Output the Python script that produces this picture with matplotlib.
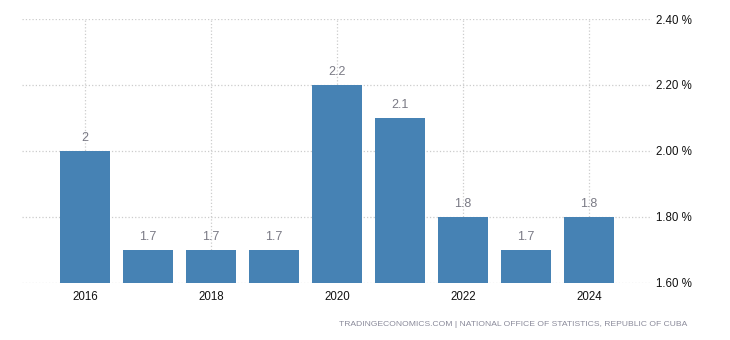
import matplotlib
matplotlib.use('Agg')
from matplotlib import pyplot as plt

years = [2016, 2017, 2018, 2019, 2020, 2021, 2022, 2023, 2024]
rate = [2.0, 1.7, 1.7, 1.7, 2.2, 2.1, 1.8, 1.7, 1.8]
bar_labels = ['2', '1.7', '1.7', '1.7', '2.2', '2.1', '1.8', '1.7', '1.8']
xticks = [2016, 2018, 2020, 2022, 2024]
yticks = [1.6, 1.8, 2.0, 2.2, 2.4]

plt.rcParams['font.family'] = ['Liberation Sans', 'DejaVu Sans']

fig = plt.figure(figsize=(7.3, 3.4), dpi=100)
ax = fig.add_axes([0.030, 0.168, 0.863, 0.776])

bars = ax.bar(years, [r - 1.6 for r in rate], bottom=1.6, width=0.79,
              color='#4682b4', zorder=2)
for b, lab in zip(bars, bar_labels):
    ax.annotate(lab, (b.get_x() + b.get_width() / 2, b.get_y() + b.get_height()),
                xytext=(0, 5), textcoords='offset points', ha='center', va='bottom',
                fontsize=9, color='#7a7a85')

ax.set_xlim(2015.0, 2025.0)
ax.set_ylim(1.6, 2.4)
ax.set_xticks(xticks)
ax.set_xticklabels([str(y) for y in xticks])
ax.set_yticks(yticks)
ax.set_yticklabels(['%.2f %%' % v for v in yticks])
ax.yaxis.tick_right()
ax.tick_params(axis='both', length=0, labelsize=8.3, colors='#111111')
ax.tick_params(axis='y', pad=3)
ax.tick_params(axis='x', pad=6)
ax.grid(True, linestyle=':', color='#cccccc', linewidth=0.9, zorder=0)
ax.set_axisbelow(True)
for s in ax.spines.values():
    s.set_visible(False)

fig.text(687 / 730, 1 - 325 / 340,
         'TRADINGECONOMICS.COM | NATIONAL OFFICE OF STATISTICS, REPUBLIC OF CUBA',
         ha='right', va='center', fontsize=6.1, color='#8a8a9a')

fig.savefig('out.png', dpi=100)
